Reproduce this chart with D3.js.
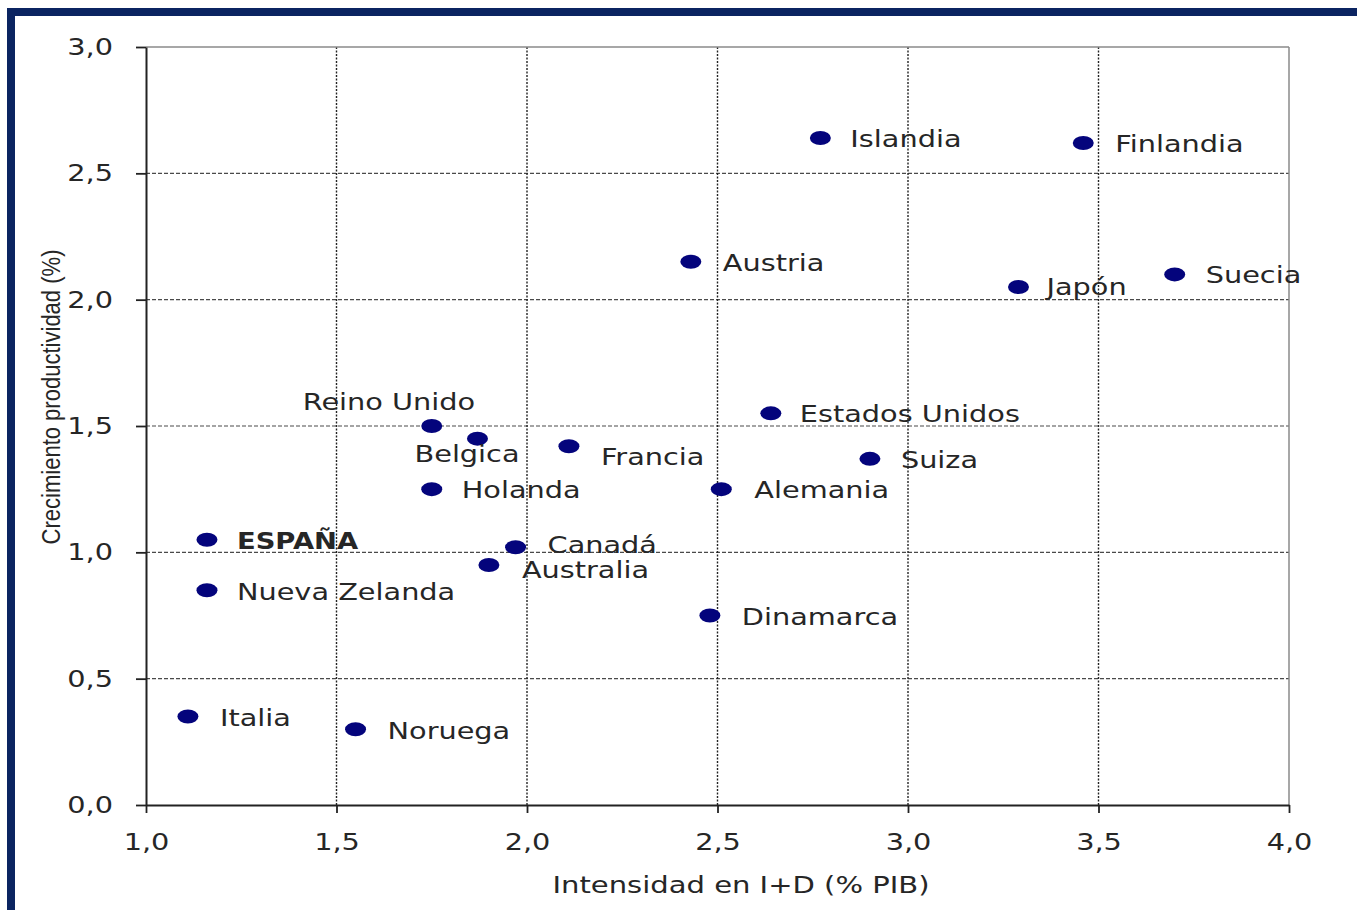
<!DOCTYPE html>
<html><head><meta charset="utf-8">
<script src="https://cdn.jsdelivr.net/npm/d3@7"></script>
<style>
html,body{margin:0;padding:0;background:#fff;}
svg{display:block;}
</style></head>
<body>
<svg id="chart" width="1357" height="910"></svg>
<script>
// ---- data ----
const countries = ["Islandia","Finlandia","Austria","Japón","Suecia","Reino Unido","Estados Unidos","Belgica","Francia","Suiza","Holanda","Alemania","ESPAÑA","Canadá","Australia","Nueva Zelanda","Dinamarca","Italia","Noruega"];
const rdIntensity = [2.77,3.46,2.43,3.29,3.70,1.75,2.64,1.87,2.11,2.90,1.75,2.51,1.16,1.97,1.90,1.16,2.48,1.11,1.55];
const productivity = [2.64,2.62,2.15,2.05,2.10,1.50,1.55,1.45,1.42,1.37,1.25,1.25,1.05,1.02,0.95,0.85,0.75,0.35,0.30];
const xTicks = [1.0,1.5,2.0,2.5,3.0,3.5,4.0];
const yTicks = [0.0,0.5,1.0,1.5,2.0,2.5,3.0];
const xTitle = "Intensidad en I+D (% PIB)";
const yTitle = "Crecimiento productividad (%)";
// label placement (px offsets from marker), layout only
const labelDx = [30,32,32,28,31,-129,29,-63,32,31,30,33,30,32,33,30,32,32,32];
const labelDy = [9,9,9,8,9,-16,9,23,19,9,9,9,9,6,13,10,9,9,10];

const svg = d3.select("#chart");
const W = 1357, H = 910;
const m = {left:146, right:1289, top:47, bottom:805};

const x = d3.scaleLinear().domain([1,4]).range([m.left, m.right]);
const y = d3.scaleLinear().domain([0,3]).range([m.bottom, m.top]);
const loc = d3.formatLocale({decimal:",", thousands:".", grouping:[3], currency:["","€"]});
const fmt = loc.format(".1f");

const FONT = "'DejaVu Sans', Verdana, sans-serif";
const TEXT = "#262626";
const STRETCH = 1.25;
function stretch(sel, f){
  sel.each(function(){
    const w = this.getComputedTextLength();
    this.setAttribute("textLength", w*(f||STRETCH));
    this.setAttribute("lengthAdjust","spacingAndGlyphs");
  });
}

// frame
svg.append("rect").attr("x",11).attr("y",12).attr("width",W+20).attr("height",H-8)
  .attr("fill","none").attr("stroke","#0b2461").attr("stroke-width",8);

// gridlines
svg.append("g").selectAll("line").data(yTicks.filter(d=>d>0 && d<3)).join("line")
  .attr("x1",m.left).attr("x2",m.right).attr("y1",d=>y(d)).attr("y2",d=>y(d))
  .attr("stroke","#4a4a4a").attr("stroke-width",1.2).attr("stroke-dasharray","4,2");
svg.append("g").selectAll("line").data(xTicks.filter(d=>d>1 && d<4)).join("line")
  .attr("x1",d=>x(d)).attr("x2",d=>x(d)).attr("y1",m.top).attr("y2",m.bottom)
  .attr("stroke","#222").attr("stroke-width",1.4).attr("stroke-dasharray","2,1.5");
// top & right border
svg.append("line").attr("x1",m.left).attr("x2",m.right).attr("y1",m.top).attr("y2",m.top)
  .attr("stroke","#8a8a8a").attr("stroke-width",1.5);
svg.append("line").attr("x1",m.right).attr("x2",m.right).attr("y1",m.top).attr("y2",m.bottom)
  .attr("stroke","#8a8a8a").attr("stroke-width",1.5);

// axes
const gx = svg.append("g").attr("transform",`translate(0,${m.bottom})`)
  .call(d3.axisBottom(x).tickValues(xTicks).tickFormat(fmt).tickSize(8).tickPadding(21).tickSizeOuter(0));
const gy = svg.append("g").attr("transform",`translate(${m.left},0)`)
  .call(d3.axisLeft(y).tickValues(yTicks).tickFormat(fmt).tickSize(10).tickPadding(23).tickSizeOuter(0));
[gx,gy].forEach(g=>{
  g.select(".domain").attr("stroke","#222").attr("stroke-width",2);
  g.selectAll(".tick line").attr("stroke","#222").attr("stroke-width",1.8);
  g.selectAll(".tick text").attr("fill",TEXT).style("font-family",FONT)
    .style("font-size","23px");
  stretch(g.selectAll(".tick text"));
});

// axis titles
svg.append("text").attr("x",741).attr("y",893).attr("text-anchor","middle")
  .attr("fill",TEXT).style("font-family",FONT).style("font-size","23px")
  .attr("textLength",377).attr("lengthAdjust","spacingAndGlyphs").text(xTitle);
svg.append("text").attr("transform","translate(60,397) rotate(-90)").attr("text-anchor","middle")
  .attr("fill",TEXT).style("font-family","'Liberation Sans Narrow','Liberation Sans',Arial,sans-serif")
  .style("font-size","25px").attr("textLength",295).attr("lengthAdjust","spacingAndGlyphs").text(yTitle);

// points
const pts = countries.map((c,i)=>({c, xv:rdIntensity[i], yv:productivity[i], dx:labelDx[i], dy:labelDy[i]}));
svg.append("g").selectAll("ellipse").data(pts).join("ellipse")
  .attr("cx",d=>x(d.xv)).attr("cy",d=>y(d.yv)).attr("rx",10.5).attr("ry",7)
  .attr("fill","#04047c");

const labels = svg.append("g").selectAll("text").data(pts).join("text")
  .attr("x",d=>x(d.xv)+d.dx).attr("y",d=>y(d.yv)+d.dy)
  .attr("fill",TEXT).style("font-family",FONT).style("font-size","23px")
  .style("font-weight",d=>d.c==="ESPAÑA"?"bold":"normal")
  .text(d=>d.c);
labels.each(function(d){
  const w = this.getComputedTextLength();
  this.setAttribute("textLength", w*(d.c==="ESPAÑA"?1.19:STRETCH));
  this.setAttribute("lengthAdjust","spacingAndGlyphs");
});
</script>
</body></html>
